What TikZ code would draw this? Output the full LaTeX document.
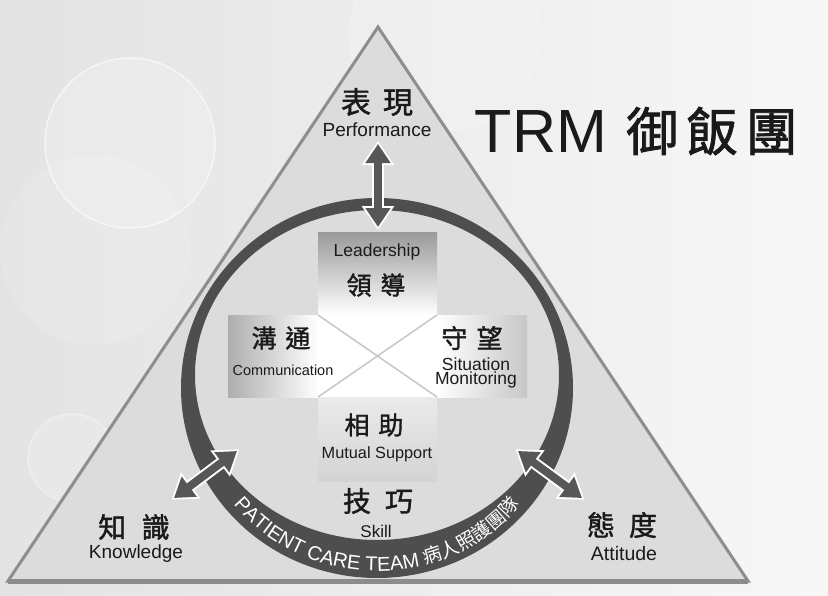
\documentclass[tikz,border=0pt]{standalone}
\usepackage{fontspec}
\setmainfont{Liberation Sans}
\newfontfamily\cjk{Noto Sans CJK TC}[FakeBold=1.5]
\newfontfamily\cjkthin{Noto Sans CJK TC}
\usetikzlibrary{arrows.meta,decorations.text}
\definecolor{ring-gray}{HTML}{4E4E4E}
\definecolor{tri-fill}{HTML}{DCDCDC}
\definecolor{tri-edge}{HTML}{8E8E8E}
\definecolor{jet}{HTML}{1A1A1A}
\newcommand{\fs}[1]{\fontsize{#1}{#1}\selectfont}

\begin{document}
\begin{tikzpicture}[x=1pt, y=-1pt,
    every node/.style={color=jet, inner sep=0pt},
    bubble/.style={draw=white, line width=1.5pt, fill=white, fill opacity=0.2, draw opacity=0.6},
    linkhalo/.style={draw=white, line width=12pt, shorten <=-3pt, shorten >=-3pt,
      {Triangle[width=31pt,length=24pt]}-{Triangle[width=31pt,length=24pt]}},
    linkarrow/.style={draw=black!66, line width=8pt,
      {Triangle[width=24pt,length=19pt]}-{Triangle[width=24pt,length=19pt]}}]
    \useasboundingbox (0,0) rectangle (828,595);
    \shade[left color=black!11, right color=black!3] (0,0) rectangle (828,595);
    \path[bubble] (130,143) circle (85);
    \path[bubble, fill opacity=0.12, draw opacity=0] (95,250) circle (95);
    \path[bubble, fill opacity=0.15, draw opacity=0.35] (72,458) circle (44);
    \path[bubble, fill opacity=0.12, draw opacity=0.2] (445,35) circle (95);

    \coordinate (apex) at (378,27);
    \coordinate (baseL) at (8,581);
    \coordinate (baseR) at (748,581);
    \filldraw[fill=tri-fill, draw=tri-edge, line width=3pt, line join=miter] (apex) -- (baseL) -- (baseR) -- cycle;
    \draw[color=black!45, line width=5pt] (baseL) -- (baseR);

    \fill[color=ring-gray, even odd rule] (377,388) ellipse[x radius=196, y radius=190]
      (377,375) ellipse[x radius=182, y radius=165];

    \shade[top color=black!40, bottom color=white] (318,232) rectangle (437,315);
    \shade[left color=black!32, right color=white] (228,315) rectangle (318,397);
    \shade[left color=white, right color=black!22] (437,315) rectangle (527,397);
    \shade[top color=black!8, bottom color=black!17] (318,397) rectangle (437,481);
    \fill[white] (318,315) rectangle (437,397);
    \draw[color=black!22, line width=1.5pt] (318,315) -- (437,397);
    \draw[color=black!22, line width=1.5pt] (437,315) -- (318,397);

    \path[decorate, decoration={text along path, text align=center,
      text={|\fs{20}\color{white}|PATIENT CARE TEAM |\cjkthin\fs{19}\color{white}|病人照護團隊}}]
      (377,382) ++(150:189) arc[start angle=150, end angle=30, radius=189];

    \coordinate (perfTip) at (378,144);
    \coordinate (ringTop) at (378,227);
    \coordinate (knowTip) at (174,498);
    \coordinate (ringLL) at (237,451);
    \coordinate (attTip) at (582,498);
    \coordinate (ringLR) at (518,451);
    \draw[linkhalo] (perfTip) -- (ringTop);
    \draw[linkarrow] (perfTip) -- (ringTop);
    \draw[linkhalo] (knowTip) -- (ringLL);
    \draw[linkarrow] (knowTip) -- (ringLL);
    \draw[linkhalo] (attTip) -- (ringLR);
    \draw[linkarrow] (attTip) -- (ringLR);

    \node (perfZh) at (377,102) {\cjk\fs{30}表\kern.4em現};
    \node[anchor=base] (perfEn) at (377,136) {\fs{19}Performance};
    \node[anchor=base] (trm) at (541,152) {\fs{61}TRM};
    \node (trmZh) at (712,131) {\cjk\fs{52}御\kern.15em飯\kern.15em團};

    \node (leadZh) at (376,285) {\cjk\fs{25}領\kern.35em導};
    \node[anchor=base] (leadEn) at (377,256) {\fs{17.5}Leadership};
    \node (commZh) at (281,338) {\cjk\fs{25}溝\kern.35em通};
    \node[anchor=base] (commEn) at (283,375) {\fs{14.5}Communication};
    \node (monZh) at (472,338) {\cjk\fs{26}守\kern.35em望};
    \node[anchor=base] (monEn1) at (476,370) {\fs{17.5}Situation};
    \node[anchor=base] (monEn2) at (476,384) {\fs{17.5}Monitoring};
    \node (suppZh) at (374,425) {\cjk\fs{25}相\kern.35em助};
    \node[anchor=base] (suppEn) at (377,458) {\fs{16.3}Mutual Support};

    \node (knowZh) at (134,527) {\cjk\fs{28}知\kern.55em識};
    \node[anchor=base] (knowEn) at (136,558) {\fs{19}Knowledge};
    \node (skillZh) at (378,501) {\cjk\fs{28}技\kern.5em巧};
    \node[anchor=base] (skillEn) at (376,537) {\fs{17}Skill};
    \node (attZh) at (622,525) {\cjk\fs{28}態\kern.5em度};
    \node[anchor=base] (attEn) at (624,560) {\fs{19.5}Attitude};
\end{tikzpicture}
\end{document}
